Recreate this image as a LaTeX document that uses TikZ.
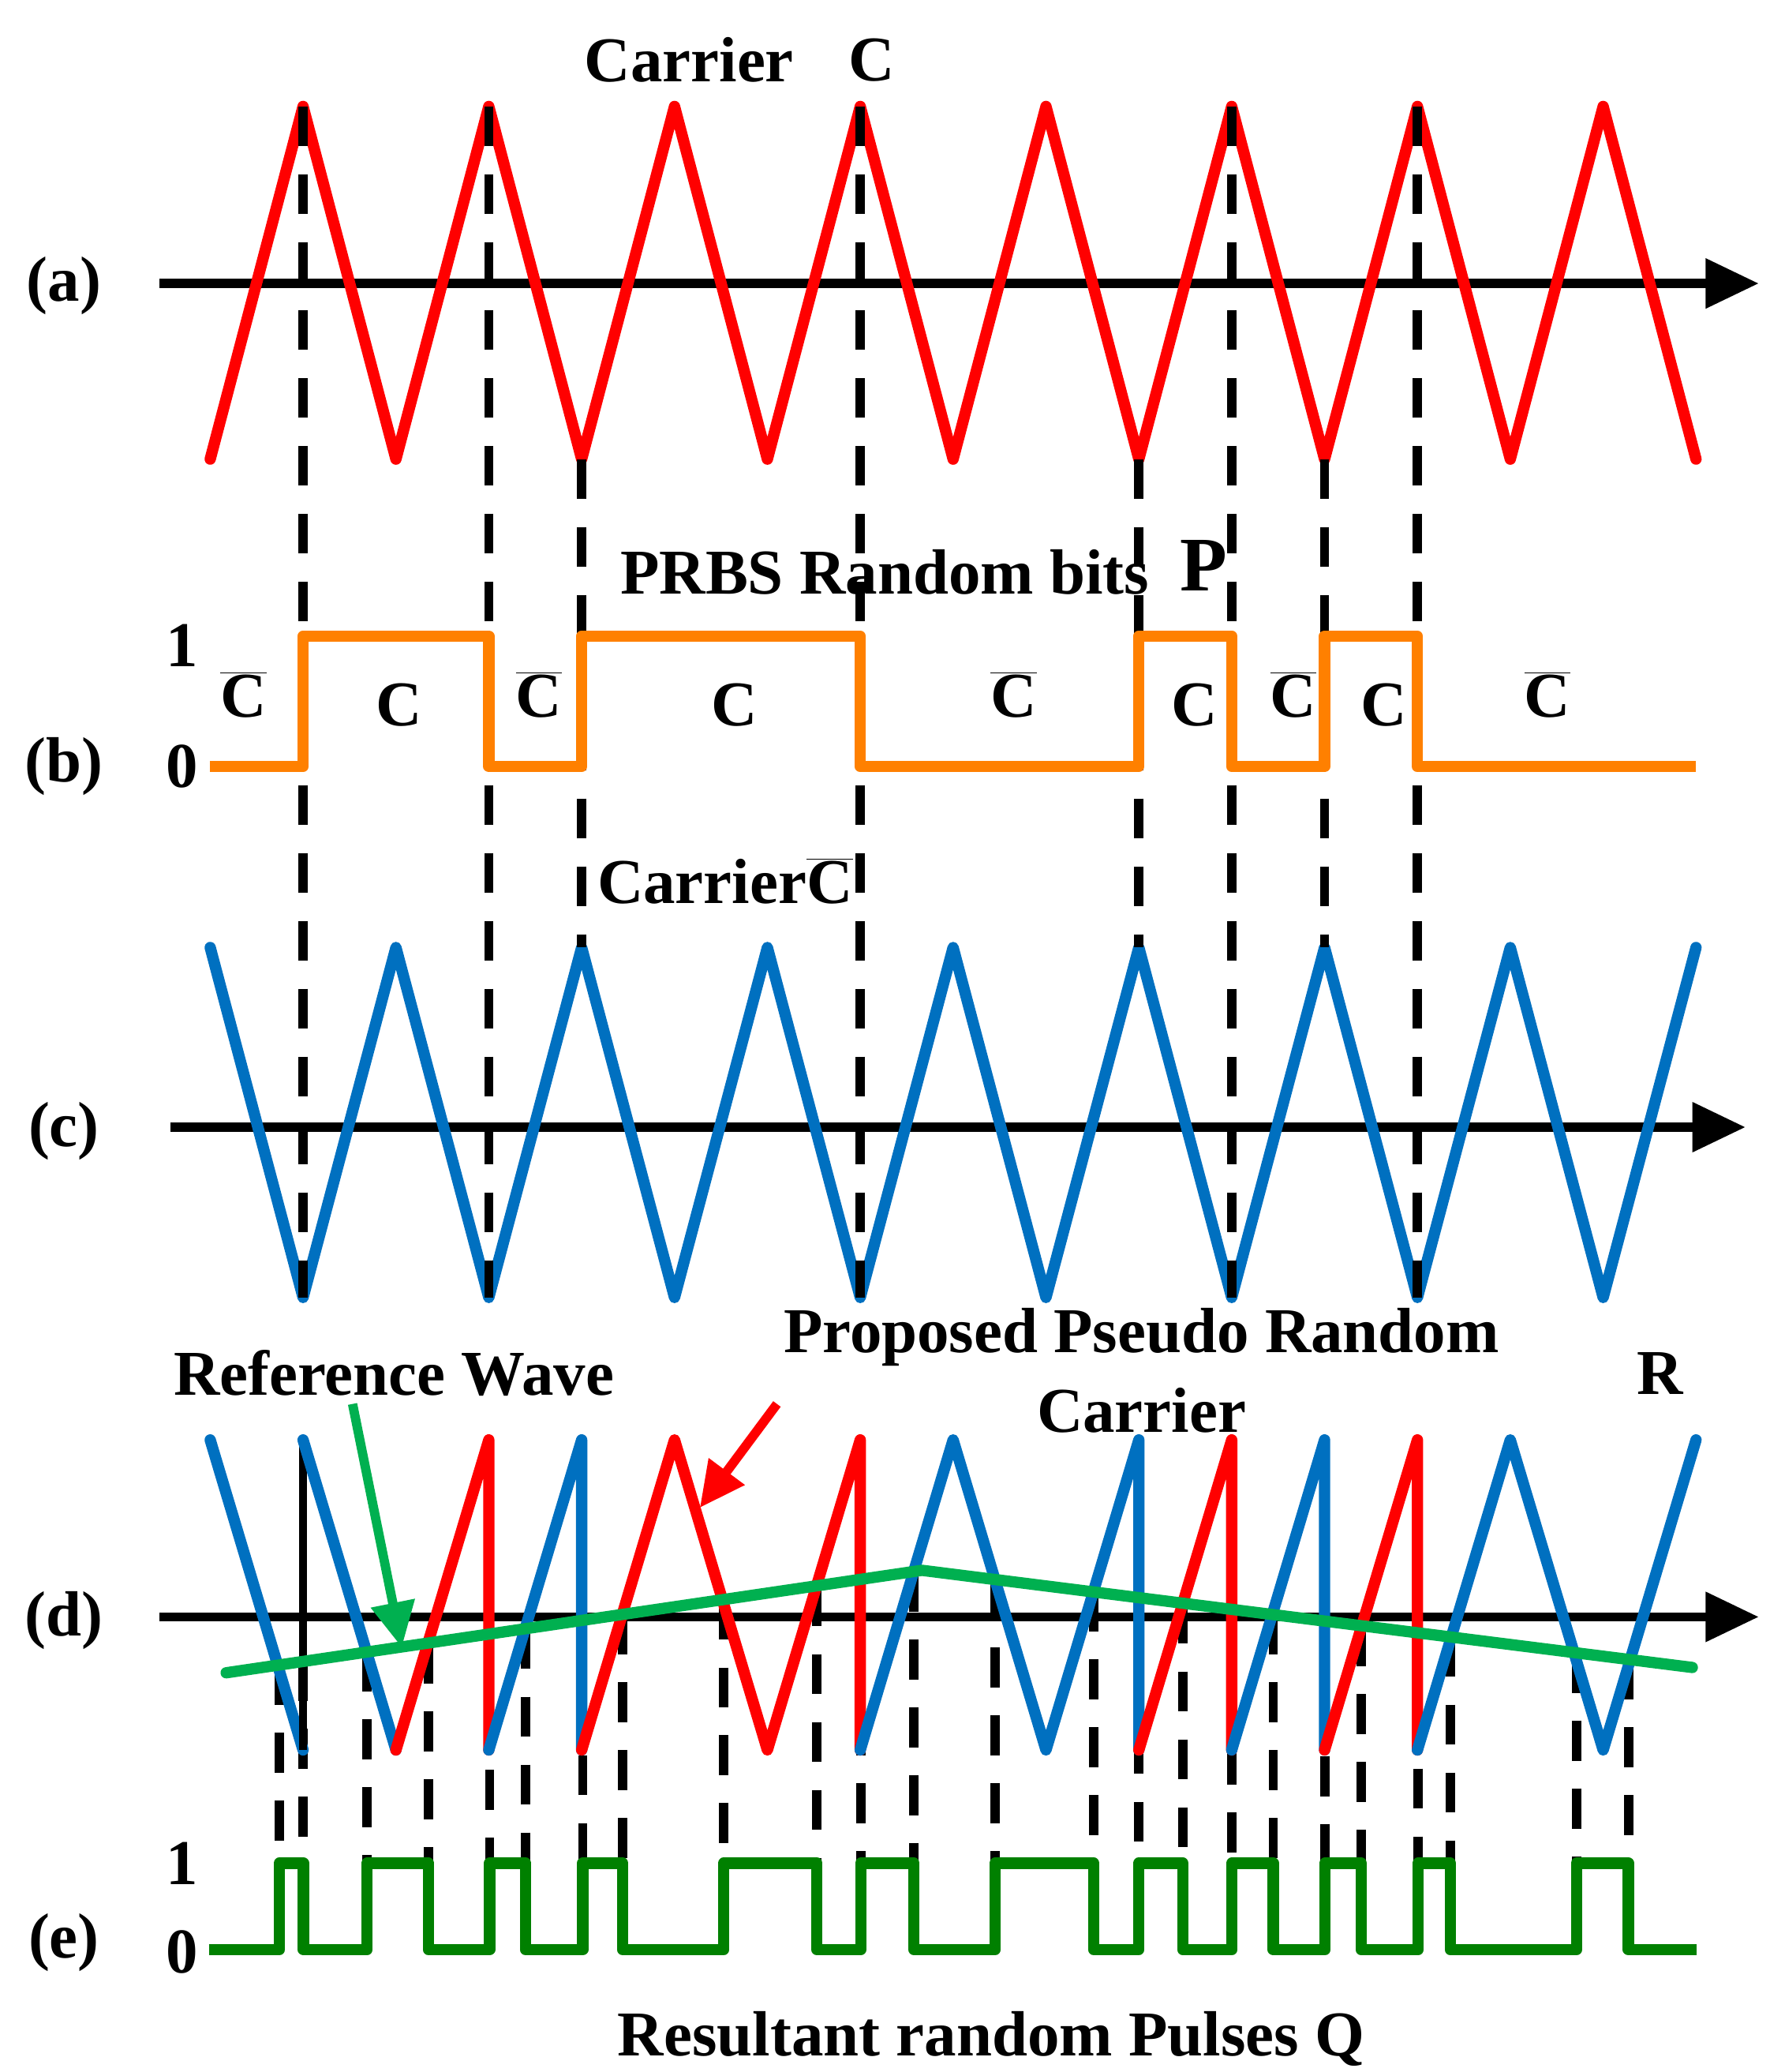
\documentclass[tikz,border=0pt]{standalone}
\usepackage{fontspec}
\setmainfont{Liberation Serif}
\usetikzlibrary{arrows.meta}
\begin{document}
\begin{tikzpicture}[x=1pt,y=-1pt,
  wv/.style={line width=8.5pt,line join=round,line cap=round},
  ax/.style={line width=7pt,-{Triangle[length=40pt,width=36pt]}},
  dsh/.style={line width=7pt,dash pattern=on 30pt off 21pt},
  lbl/.style={font=\fontsize{48}{54}\selectfont\bfseries,inner sep=0pt},
  redc/.style={color={rgb,255:red,255;green,0;blue,0}},
  bluec/.style={color={rgb,255:red,0;green,112;blue,192}},
  orc/.style={color={rgb,255:red,255;green,128;blue,0}},
  grc/.style={color={rgb,255:red,0;green,176;blue,80}},
  dgc/.style={color={rgb,255:red,0;green,128;blue,0}}]
\useasboundingbox (0,0) rectangle (1330,1557);
\def\K#1{\fpeval{158+69.8*(#1)}}
% (a)
\draw[ax] (120,213) -- (1322,213);
\draw[wv,redc] (\K0,345) \foreach \k in {1,...,16}{ -- (\K{\k},{mod(\k,2)==1 ? 80 : 345}) };
% (c)
\draw[ax] (128,847) -- (1312,847);
\draw[wv,bluec] (\K0,712) \foreach \k in {1,...,16}{ -- (\K{\k},{mod(\k,2)==1 ? 975 : 712}) };
% dashed verticals a-c
\foreach \k in {1,3,7,11,13}{\draw[dsh] (\K{\k},80) -- (\K{\k},975);}
\foreach \k in {4,10,12}{\draw[dsh] (\K{\k},345) -- (\K{\k},712);}
% (b)
\draw[wv,orc,line cap=butt] (\K0,576) -- (\K1,576) -- (\K1,478) -- (\K3,478) -- (\K3,576) -- (\K4,576) -- (\K4,478) -- (\K7,478) -- (\K7,576) -- (\K{10},576) -- (\K{10},478) -- (\K{11},478) -- (\K{11},576) -- (\K{12},576) -- (\K{12},478) -- (\K{13},478) -- (\K{13},576) -- (\K{16},576);
\node[lbl] (la) at (48,215) {(a)};
\node[lbl] (lb) at (48,576) {(b)};
\node[lbl] (lc) at (48,850) {(c)};
\node[lbl] (ld) at (48,1218) {(d)};
\node[lbl] (le) at (48,1460) {(e)};
\node[lbl] (b1) at (137,485) {1};
\node[lbl] (b0) at (137,576) {0};
\node[lbl] (e1) at (137,1400) {1};
\node[lbl] (e0) at (137,1467) {0};
\node[lbl] (tc) at (518,45) {Carrier};
\node[lbl] (tcc) at (655,45) {C};
\node[lbl] (tp) at (665,430) {PRBS Random bits};
\node[lbl,font=\fontsize{58}{64}\selectfont\bfseries] (tpp) at (905,425) {P};
\node[lbl] (tcb) at (545,662) {Carrier$\overline{\mbox{C}}$};
\foreach \x/\n in {183/1,405/2,762/3,972/4,1163/5}{\node[lbl] (cb\n) at (\x,522) {$\overline{\mbox{\bfseries C}}$};}
\foreach \x/\n in {300/1,552/2,898/3,1040/4}{\node[lbl] (cc\n) at (\x,530) {C};}
% (d)
\draw[ax] (120,1215) -- (1322,1215);
\coordinate (g1) at (170,1257); \coordinate (g2) at (693,1180); \coordinate (g3) at (1272,1253);
\foreach \x/\y in {210/1251,228/1248,276/1241,322/1235,368/1228,395/1224,438/1217,468/1213,544/1202,614/1192,647/1187,687/1181,748/1187,822/1196,856/1201,889/1205,926/1209,957/1213,996/1218,1023/1222,1066/1227,1090/1230,1185/1242,1224/1247}
  {\draw[dsh] (\x,\y) -- (\x,1400);}
\draw[wv,bluec] (\K0,1082) -- (\K1,1315);
\draw[line width=6pt] (\K1,1082) -- (\K1,1315);
\draw[wv,bluec] (\K1,1082) -- (\K2,1315);
\draw[wv,redc] (\K2,1315) -- (\K3,1082) -- (\K3,1315);
\draw[wv,bluec] (\K3,1315) -- (\K4,1082) -- (\K4,1315);
\draw[wv,redc] (\K4,1315) -- (\K5,1082) -- (\K6,1315) -- (\K7,1082) -- (\K7,1315);
\draw[wv,bluec] (\K7,1315) -- (\K8,1082) -- (\K9,1315) -- (\K{10},1082) -- (\K{10},1315);
\draw[wv,redc] (\K{10},1315) -- (\K{11},1082) -- (\K{11},1315);
\draw[wv,bluec] (\K{11},1315) -- (\K{12},1082) -- (\K{12},1315);
\draw[wv,redc] (\K{12},1315) -- (\K{13},1082) -- (\K{13},1315);
\draw[wv,bluec] (\K{13},1315) -- (\K{14},1082) -- (\K{15},1315) -- (\K{16},1082);
\draw[wv,grc] (g1) -- (g2) -- (g3);
% (e)
\draw[wv,dgc,line cap=butt] (157,1465) -- (210,1465) -- (210,1400) -- (228,1400) -- (228,1465) -- (276,1465) -- (276,1400) -- (322,1400) -- (322,1465) -- (368,1465) -- (368,1400) -- (395,1400) -- (395,1465) -- (438,1465) -- (438,1400) -- (468,1400) -- (468,1465) -- (544,1465) -- (544,1400) -- (614,1400) -- (614,1465) -- (647,1465) -- (647,1400) -- (687,1400) -- (687,1465) -- (748,1465) -- (748,1400) -- (822,1400) -- (822,1465) -- (856,1465) -- (856,1400) -- (889,1400) -- (889,1465) -- (926,1465) -- (926,1400) -- (957,1400) -- (957,1465) -- (996,1465) -- (996,1400) -- (1023,1400) -- (1023,1465) -- (1066,1465) -- (1066,1400) -- (1090,1400) -- (1090,1465) -- (1185,1465) -- (1185,1400) -- (1224,1400) -- (1224,1465) -- (1275,1465);
% labels d
\node[lbl] (rw) at (296,1032) {Reference Wave};
\node[lbl] (pp) at (858,1005) {Proposed Pseudo Random};
\node[lbl] (pc) at (858,1060) {Carrier};
\node[lbl] (rr) at (1248,1032) {R};
\node[lbl] (rq) at (745,1532) {Resultant random Pulses Q};
\coordinate (ga) at (265,1055); \coordinate (gb) at (302,1238);
\draw[line width=7pt,grc,-{Triangle[length=34pt,width=32pt]}] (ga) -- (gb);
\coordinate (ra) at (584,1055); \coordinate (rb) at (526,1133);
\draw[line width=7pt,redc,-{Triangle[length=34pt,width=32pt]}] (ra) -- (rb);
\end{tikzpicture}
\end{document}
